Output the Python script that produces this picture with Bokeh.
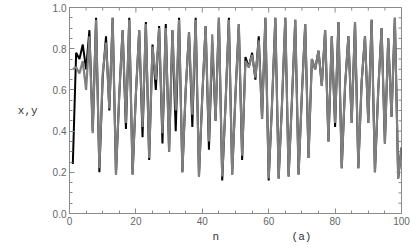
from bokeh.plotting import figure
from bokeh.models import Range1d, FixedTicker, PrintfTickFormatter
from bokeh.embed import file_html
from bokeh.resources import INLINE

n = list(range(1, 101))
x_vals = [0.24, 0.78, 0.75, 0.82, 0.70, 0.89, 0.40, 0.95, 0.20, 0.66,
          0.86, 0.50, 0.95, 0.19, 0.58, 0.89, 0.41, 0.95, 0.19, 0.58,
          0.89, 0.37, 0.93, 0.26, 0.82, 0.60, 0.91, 0.34, 0.92, 0.30,
          0.89, 0.40, 0.95, 0.20, 0.60, 0.88, 0.42, 0.95, 0.18, 0.57,
          0.91, 0.31, 0.83, 0.45, 0.95, 0.16, 0.53, 0.95, 0.19, 0.58,
          0.92, 0.26, 0.76, 0.71, 0.78, 0.65, 0.86, 0.46, 0.95, 0.16,
          0.53, 0.95, 0.17, 0.53, 0.95, 0.18, 0.55, 0.94, 0.19, 0.58,
          0.92, 0.27, 0.75, 0.70, 0.79, 0.62, 0.89, 0.35, 0.86, 0.42,
          0.93, 0.22, 0.62, 0.86, 0.44, 0.93, 0.22, 0.64, 0.86, 0.44,
          0.94, 0.20, 0.60, 0.90, 0.34, 0.85, 0.47, 0.95, 0.17, 0.32]
y_vals = [0.70, 0.71, 0.68, 0.74, 0.60, 0.86, 0.39, 0.94, 0.22, 0.68,
          0.83, 0.51, 0.95, 0.19, 0.58, 0.89, 0.44, 0.94, 0.19, 0.58,
          0.89, 0.42, 0.92, 0.27, 0.81, 0.65, 0.90, 0.39, 0.90, 0.30,
          0.89, 0.50, 0.94, 0.20, 0.60, 0.88, 0.48, 0.94, 0.18, 0.57,
          0.91, 0.35, 0.87, 0.45, 0.95, 0.18, 0.53, 0.94, 0.19, 0.58,
          0.92, 0.28, 0.74, 0.71, 0.77, 0.66, 0.84, 0.46, 0.95, 0.17,
          0.53, 0.95, 0.17, 0.53, 0.95, 0.18, 0.55, 0.94, 0.19, 0.58,
          0.92, 0.27, 0.75, 0.70, 0.79, 0.62, 0.89, 0.35, 0.86, 0.44,
          0.93, 0.22, 0.62, 0.86, 0.44, 0.93, 0.22, 0.64, 0.86, 0.44,
          0.94, 0.20, 0.60, 0.90, 0.34, 0.85, 0.47, 0.95, 0.17, 0.32]

x_ticks = [0, 20, 40, 60, 80, 100]
x_minor = list(range(0, 101, 5))
y_ticks = [0.0, 0.2, 0.4, 0.6, 0.8, 1.0]
y_minor = [round(i * 0.05, 2) for i in range(21)]

x_label = "\u00a0" * 8 + "n" + "\u00a0" * 11 + "(a)"
y_label = "x,y"

AX = "#8a8a8a"
LBL = "#666666"

p = figure(width=411, height=248, x_range=Range1d(0, 100), y_range=Range1d(0, 1),
           output_backend="svg", toolbar_location=None,
           min_border_left=69, min_border_right=10, min_border_top=7, min_border_bottom=35)
p.grid.visible = False
p.outline_line_color = AX

for ax in (p.xaxis[0], p.yaxis[0]):
    ax.axis_line_color = AX
    ax.major_tick_line_color = AX
    ax.minor_tick_line_color = AX
    ax.major_tick_in = 5
    ax.major_tick_out = 0
    ax.minor_tick_in = 3
    ax.minor_tick_out = 0
    ax.major_label_text_color = LBL
    ax.major_label_text_font = "Liberation Sans"
    ax.major_label_text_font_size = "10px"
    ax.major_label_standoff = 3
    ax.axis_label_text_font = "Liberation Mono"
    ax.axis_label_text_font_size = "11px"
    ax.axis_label_text_font_style = "normal"
    ax.axis_label_text_color = "#333333"

p.xaxis.ticker = FixedTicker(ticks=x_ticks, minor_ticks=x_minor)
p.xaxis.formatter = PrintfTickFormatter(format="%d")
p.yaxis.ticker = FixedTicker(ticks=y_ticks, minor_ticks=y_minor)
p.yaxis.formatter = PrintfTickFormatter(format="%.1f")

p.xaxis.axis_label = x_label
p.xaxis.axis_label_standoff = 3
p.yaxis.axis_label = y_label
p.yaxis.axis_label_standoff = 12
yax = p.yaxis[0]
if "axis_label_orientation" in yax.properties():
    yax.axis_label_orientation = "horizontal"

# top and right frame ticks (inward), built from the tick lists
top_major = x_ticks
top_minor = [t for t in x_minor if t not in x_ticks]
p.segment(x0=top_major, y0=[1.0] * len(top_major), x1=top_major, y1=[1.0 - 0.0245] * len(top_major),
          line_color=AX, line_width=1)
p.segment(x0=top_minor, y0=[1.0] * len(top_minor), x1=top_minor, y1=[1.0 - 0.0147] * len(top_minor),
          line_color=AX, line_width=1)
r_major = y_ticks
r_minor = [t for t in y_minor if t not in y_ticks]
p.segment(x0=[100] * len(r_major), y0=r_major, x1=[100 - 1.5] * len(r_major), y1=r_major,
          line_color=AX, line_width=1)
p.segment(x0=[100] * len(r_minor), y0=r_minor, x1=[100 - 0.9] * len(r_minor), y1=r_minor,
          line_color=AX, line_width=1)

p.line(n, x_vals, line_color="black", line_width=2)
p.line(n, y_vals, line_color="#7f7f7f", line_width=2.2)

open("out.html", "w").write(file_html(p, INLINE))
